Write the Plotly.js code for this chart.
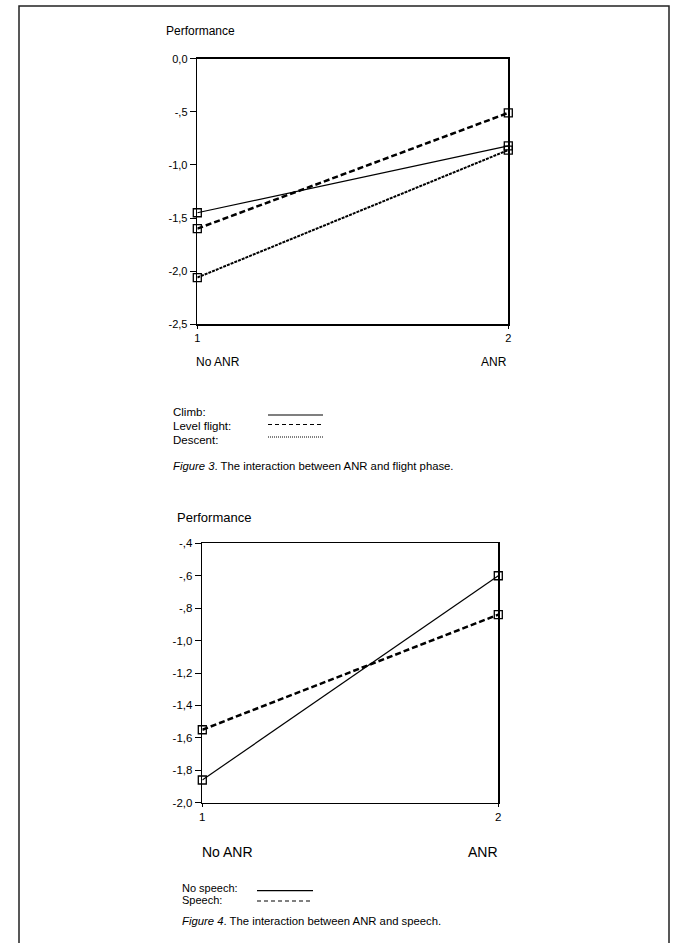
<!DOCTYPE html>
<html>
<head>
<meta charset="utf-8">
<script src="https://cdn.plot.ly/plotly-3.0.1.min.js"></script>
<style>html,body{margin:0;padding:0;background:#fff;}#chart{width:676px;height:943px;}</style>
</head>
<body>
<div id="chart"></div>
<script>
// ---- Data ----
const xLevels = [1, 2];
const xTickText = ['1', '2'];
const xCatLabels = ['No ANR', 'ANR'];

// Figure 3: ANR x flight phase
const climb = [-1.45, -0.82];
const levelFlight = [-1.60, -0.51];
const descent = [-2.06, -0.86];
const fig3Series = ['Climb:', 'Level flight:', 'Descent:'];
const y1TickVals = [0, -0.5, -1.0, -1.5, -2.0, -2.5];
const y1TickText = ['0,0', '-,5', '-1,0', '-1,5', '-2,0', '-2,5'];

// Figure 4: ANR x speech
const noSpeech = [-1.86, -0.60];
const speech = [-1.55, -0.84];
const fig4Series = ['No speech:', 'Speech:'];
const y2TickVals = [-0.4, -0.6, -0.8, -1.0, -1.2, -1.4, -1.6, -1.8, -2.0];
const y2TickText = ['-,4', '-,6', '-,8', '-1,0', '-1,2', '-1,4', '-1,6', '-1,8', '-2,0'];

// ---- Layout helpers (pixel -> paper) ----
const W = 676, H = 943;
const px = x => x / W;
const py = y => 1 - y / H;
const FONT = 'Liberation Sans, Arial, sans-serif';

const marker = {symbol: 'square-open', size: 8, color: '#000', line: {width: 1.3, color: '#000'}};

function trace(y, xa, ya, dash, width) {
  return {x: xLevels, y: y, xaxis: xa, yaxis: ya, type: 'scatter', mode: 'lines+markers',
    line: {color: '#000', width: width, dash: dash}, marker: marker, cliponaxis: false,
    showlegend: false, hoverinfo: 'skip'};
}

const data = [
  trace(descent, 'x', 'y', '3px,1px', 2),
  trace(climb, 'x', 'y', 'solid', 1.2),
  trace(levelFlight, 'x', 'y', '6px,3px', 2.5),
  trace(noSpeech, 'x2', 'y2', 'solid', 1.2),
  trace(speech, 'x2', 'y2', '6px,3px', 2.5)
];

const axisCommon = {showgrid: false, zeroline: false, showline: true, mirror: true,
  linecolor: '#000', linewidth: 1.6, ticks: 'outside', tickcolor: '#000', tickwidth: 1,
  fixedrange: true};

function ann(text, x, y, xanchor, size, extra) {
  return Object.assign({text: text, x: px(x), y: py(y), xref: 'paper', yref: 'paper',
    xanchor: xanchor, yanchor: 'middle', showarrow: false, borderpad: 0,
    font: {family: FONT, size: size, color: '#000'}}, extra || {});
}
function sampleLine(x0, x1, y, dash, width) {
  return {type: 'line', xref: 'paper', yref: 'paper', x0: px(x0), x1: px(x1), y0: py(y), y1: py(y),
    line: {color: '#000', width: width, dash: dash}};
}

const layout = {
  width: W, height: H,
  margin: {l: 0, r: 0, t: 0, b: 0},
  paper_bgcolor: '#fff', plot_bgcolor: '#fff',
  showlegend: false,
  font: {family: FONT, color: '#000'},
  xaxis: Object.assign({}, axisCommon, {domain: [px(197.3), px(508.3)], range: [1, 2],
    tickvals: xLevels, ticktext: xTickText, ticklen: 3, tickfont: {family: FONT, size: 11, color: '#000'}, anchor: 'y'}),
  yaxis: Object.assign({}, axisCommon, {domain: [py(324.3), py(58.7)], range: [-2.5, 0],
    tickvals: y1TickVals, ticktext: y1TickText, ticklen: 6, tickfont: {family: FONT, size: 11, color: '#000'}, anchor: 'x'}),
  xaxis2: Object.assign({}, axisCommon, {domain: [px(202.3), px(498.3)], range: [1, 2],
    tickvals: xLevels, ticktext: xTickText, ticklen: 3, tickfont: {family: FONT, size: 11.5, color: '#000'}, anchor: 'y2'}),
  yaxis2: Object.assign({}, axisCommon, {domain: [py(802.7), py(543.3)], range: [-2.0, -0.4],
    tickvals: y2TickVals, ticktext: y2TickText, ticklen: 6, tickfont: {family: FONT, size: 11.5, color: '#000'}, anchor: 'x2'}),
  shapes: [
    {type: 'rect', xref: 'paper', yref: 'paper', x0: px(19), x1: px(669), y0: py(960), y1: py(6),
      line: {color: '#222', width: 1.5}, fillcolor: 'rgba(0,0,0,0)', layer: 'below'},
    sampleLine(268, 323, 415, 'solid', 1.2),
    sampleLine(268, 323, 424.5, '4px,3px', 1),
    sampleLine(268, 323, 437, '1px,1px', 1),
    sampleLine(257, 313, 890.7, 'solid', 1.2),
    sampleLine(257, 313, 901, '4px,3px', 1)
  ],
  annotations: [
    ann('Performance', 165, 31, 'left', 12),
    ann(xCatLabels[0], 195, 362, 'left', 12),
    ann(xCatLabels[1], 508, 362, 'right', 12),
    ann(fig3Series[0], 172, 412, 'left', 11.5),
    ann(fig3Series[1], 172, 426, 'left', 11.5),
    ann(fig3Series[2], 172, 440, 'left', 11.5),
    ann('<i>Figure 3</i>. The interaction between ANR and flight phase.', 172, 466, 'left', 11.3),

    ann('Performance', 176, 517, 'left', 13),
    ann(xCatLabels[0], 201, 852, 'left', 14),
    ann(xCatLabels[1], 499, 852, 'right', 14),
    ann(fig4Series[0], 181, 887.5, 'left', 11),
    ann(fig4Series[1], 181, 900, 'left', 11),
    ann('<i>Figure 4</i>. The interaction between ANR and speech.', 181, 921, 'left', 11.3)
  ]
};

Plotly.newPlot('chart', data, layout, {staticPlot: true, displayModeBar: false});
</script>
</body>
</html>
